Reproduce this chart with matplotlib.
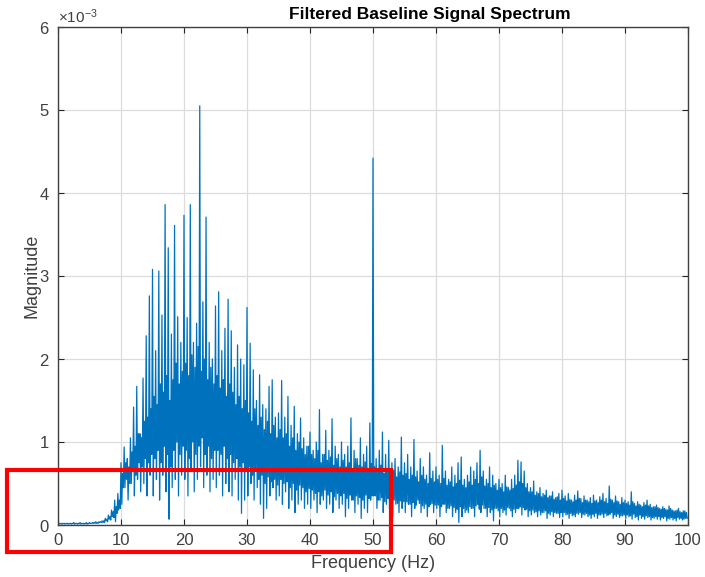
import numpy as np
import matplotlib.pyplot as plt
from matplotlib.patches import Rectangle
from matplotlib.ticker import ScalarFormatter

plt.rcParams['font.family'] = ['Liberation Sans', 'DejaVu Sans']
plt.rcParams['mathtext.fontset'] = 'custom'
plt.rcParams['mathtext.rm'] = 'Liberation Sans'

# spectrum magnitude (x1e-3) per 0.5 Hz bin starting at 0 Hz
# each bin holds four samples: peak, trough, upper band, lower band
peaks = [
    0.02, 0.02, 0.02, 0.02, 0.02, 0.03, 0.02, 0.03, 0.02, 0.03,   # 0-5 Hz
    0.03, 0.03, 0.04, 0.04, 0.05, 0.08, 0.12, 0.18, 0.30, 0.38,   # 5-10
    0.75, 0.94, 0.80, 1.05, 1.42, 1.67, 1.10, 1.77, 2.28, 2.76,   # 10-15
    3.08, 2.10, 3.06, 2.53, 3.86, 3.34, 2.30, 3.61, 2.51, 2.20,   # 15-20
    3.73, 2.50, 3.86, 2.20, 2.43, 5.05, 2.69, 3.71, 2.20, 2.00,   # 20-25
    2.64, 2.81, 2.10, 2.37, 2.72, 2.34, 1.90, 2.17, 2.00, 1.93,   # 25-30
    2.62, 2.19, 1.87, 1.50, 1.81, 1.45, 1.40, 1.67, 1.75, 1.30,   # 30-35
    1.35, 1.74, 1.30, 1.55, 1.20, 1.43, 1.10, 1.29, 1.05, 0.95,   # 35-40
    1.12, 0.90, 1.00, 1.39, 0.85, 1.14, 0.90, 1.28, 0.95, 0.85,   # 40-45
    1.00, 0.85, 0.95, 1.29, 0.90, 0.80, 1.05, 0.85, 0.95, 1.23,   # 45-50
    4.42, 0.80, 0.90, 1.12, 0.85, 1.02, 0.75, 0.80, 0.70, 1.06,   # 50-55
    0.75, 0.85, 0.70, 1.03, 0.65, 0.80, 0.70, 0.60, 0.87, 0.65,   # 55-60
    0.70, 0.60, 0.96, 0.65, 0.55, 0.70, 0.60, 0.75, 0.82, 0.55,   # 60-65
    0.60, 0.70, 0.65, 0.75, 0.90, 0.65, 0.55, 0.70, 0.60, 0.50,   # 65-70
    0.55, 0.50, 0.60, 0.45, 0.55, 0.60, 0.78, 0.76, 0.65, 0.50,   # 70-75
    0.45, 0.53, 0.40, 0.45, 0.38, 0.42, 0.35, 0.40, 0.33, 0.38,   # 75-80
    0.42, 0.35, 0.38, 0.30, 0.36, 0.41, 0.32, 0.35, 0.30, 0.33,   # 80-85
    0.36, 0.30, 0.34, 0.38, 0.32, 0.47, 0.30, 0.35, 0.28, 0.33,   # 85-90
    0.30, 0.28, 0.40, 0.26, 0.28, 0.24, 0.27, 0.30, 0.25, 0.22,   # 90-95
    0.24, 0.20, 0.22, 0.19, 0.23, 0.18, 0.17, 0.20, 0.15, 0.17,   # 95-100
]

troughs = [
    0.01, 0.01, 0.01, 0.01, 0.01, 0.01, 0.01, 0.01, 0.01, 0.01,
    0.02, 0.02, 0.02, 0.03, 0.03, 0.05, 0.07, 0.10, 0.04, 0.18,
    0.25, 0.45, 0.30, 0.50, 0.35, 0.55, 0.40, 0.50, 0.35, 0.60,
    0.35, 0.55, 0.30, 0.60, 0.40, 0.07, 0.45, 0.55, 0.35, 0.60,
    0.55, 0.35, 0.65, 0.40, 0.55, 0.70, 0.45, 0.60, 0.40, 0.55,
    0.45, 0.60, 0.35, 0.50, 0.40, 0.35, 0.55, 0.30, 0.14, 0.30,
    0.35, 0.50, 0.30, 0.45, 0.25, 0.08, 0.20, 0.35, 0.45, 0.30,
    0.35, 0.25, 0.40, 0.20, 0.30, 0.15, 0.25, 0.30, 0.20, 0.25,
    0.20, 0.30, 0.15, 0.25, 0.30, 0.20, 0.25, 0.15, 0.30, 0.20,
    0.25, 0.10, 0.20, 0.30, 0.15, 0.25, 0.08, 0.20, 0.15, 0.30,
    0.35, 0.20, 0.30, 0.15, 0.25, 0.20, 0.10, 0.25, 0.15, 0.20,
    0.15, 0.25, 0.10, 0.20, 0.30, 0.15, 0.20, 0.10, 0.25, 0.15,
    0.20, 0.10, 0.25, 0.15, 0.20, 0.10, 0.15, 0.03, 0.10, 0.15,
    0.15, 0.20, 0.10, 0.25, 0.15, 0.20, 0.10, 0.15, 0.05, 0.20,
    0.10, 0.15, 0.12, 0.20, 0.10, 0.15, 0.20, 0.12, 0.18, 0.10,
    0.12, 0.15, 0.10, 0.12, 0.15, 0.08, 0.12, 0.10, 0.14, 0.09,
    0.10, 0.12, 0.08, 0.11, 0.10, 0.13, 0.09, 0.12, 0.10, 0.08,
    0.10, 0.08, 0.12, 0.09, 0.11, 0.13, 0.08, 0.10, 0.09, 0.11,
    0.08, 0.10, 0.07, 0.09, 0.06, 0.08, 0.07, 0.09, 0.06, 0.08,
    0.07, 0.06, 0.08, 0.05, 0.07, 0.06, 0.05, 0.07, 0.06, 0.08,
]

band_hi = [
    0.02, 0.02, 0.02, 0.02, 0.02, 0.02, 0.02, 0.02, 0.02, 0.02,
    0.02, 0.03, 0.03, 0.04, 0.05, 0.07, 0.10, 0.16, 0.22, 0.30,
    0.62, 0.75, 0.70, 0.88, 0.95, 1.10, 1.05, 1.25, 1.30, 1.40,
    1.55, 1.45, 1.70, 1.60, 1.80, 1.50, 1.75, 1.95, 1.70, 1.85,
    1.95, 1.80, 2.05, 1.90, 2.15, 1.85, 2.00, 1.75, 1.90, 1.70,
    1.80, 1.65, 1.75, 1.55, 1.70, 1.60, 1.45, 1.55, 1.40, 1.50,
    1.35, 1.25, 1.40, 1.20, 1.30, 1.15, 1.25, 1.10, 1.20, 1.05,
    1.15, 1.05, 1.10, 0.95, 1.05, 0.90, 1.00, 0.92, 0.85, 0.95,
    0.85, 0.80, 0.90, 0.75, 0.85, 0.78, 0.82, 0.72, 0.80, 0.70,
    0.78, 0.70, 0.75, 0.68, 0.80, 0.72, 0.70, 0.76, 0.68, 0.74,
    0.70, 0.65, 0.72, 0.62, 0.68, 0.60, 0.66, 0.58, 0.64, 0.60,
    0.62, 0.55, 0.60, 0.58, 0.52, 0.60, 0.55, 0.50, 0.56, 0.52,
    0.55, 0.50, 0.56, 0.48, 0.52, 0.46, 0.50, 0.54, 0.48, 0.45,
    0.52, 0.48, 0.55, 0.50, 0.58, 0.47, 0.50, 0.45, 0.48, 0.42,
    0.45, 0.40, 0.46, 0.42, 0.44, 0.48, 0.52, 0.50, 0.45, 0.40,
    0.40, 0.36, 0.38, 0.34, 0.36, 0.33, 0.35, 0.31, 0.34, 0.30,
    0.32, 0.29, 0.31, 0.28, 0.30, 0.32, 0.27, 0.30, 0.28, 0.26,
    0.29, 0.27, 0.30, 0.28, 0.26, 0.31, 0.27, 0.29, 0.25, 0.27,
    0.26, 0.24, 0.28, 0.23, 0.25, 0.22, 0.24, 0.23, 0.21, 0.22,
    0.21, 0.19, 0.20, 0.18, 0.20, 0.17, 0.18, 0.16, 0.17, 0.15,
]

band_lo = [
    0.015, 0.015, 0.015, 0.015, 0.015, 0.015, 0.015, 0.015, 0.015, 0.015,
    0.02, 0.02, 0.02, 0.03, 0.03, 0.04, 0.06, 0.09, 0.14, 0.20,
    0.45, 0.55, 0.50, 0.65, 0.60, 0.75, 0.70, 0.80, 0.75, 0.85,
    0.80, 0.90, 0.75, 0.95, 0.85, 0.70, 0.90, 1.00, 0.85, 0.95,
    0.90, 0.80, 1.00, 0.85, 0.95, 1.05, 0.85, 0.95, 0.80, 0.90,
    0.90, 0.85, 0.95, 0.80, 0.85, 0.75, 0.80, 0.70, 0.75, 0.65,
    0.70, 0.60, 0.65, 0.55, 0.60, 0.50, 0.58, 0.52, 0.55, 0.48,
    0.55, 0.50, 0.52, 0.45, 0.50, 0.42, 0.48, 0.45, 0.40, 0.44,
    0.42, 0.38, 0.40, 0.35, 0.42, 0.36, 0.40, 0.34, 0.38, 0.35,
    0.38, 0.32, 0.36, 0.30, 0.35, 0.33, 0.30, 0.36, 0.32, 0.35,
    0.35, 0.30, 0.33, 0.28, 0.32, 0.27, 0.30, 0.26, 0.29, 0.28,
    0.28, 0.25, 0.27, 0.24, 0.26, 0.23, 0.25, 0.22, 0.26, 0.24,
    0.24, 0.22, 0.25, 0.20, 0.23, 0.21, 0.19, 0.22, 0.20, 0.18,
    0.22, 0.20, 0.23, 0.19, 0.24, 0.20, 0.21, 0.18, 0.20, 0.17,
    0.20, 0.18, 0.21, 0.17, 0.19, 0.20, 0.22, 0.21, 0.19, 0.17,
    0.18, 0.16, 0.17, 0.15, 0.17, 0.14, 0.16, 0.15, 0.14, 0.15,
    0.15, 0.13, 0.14, 0.12, 0.14, 0.15, 0.13, 0.14, 0.12, 0.13,
    0.14, 0.12, 0.13, 0.14, 0.12, 0.15, 0.12, 0.13, 0.11, 0.12,
    0.12, 0.11, 0.13, 0.10, 0.12, 0.10, 0.11, 0.10, 0.09, 0.10,
    0.10, 0.09, 0.10, 0.08, 0.09, 0.08, 0.09, 0.08, 0.07, 0.08,
]

df = 0.5
n = len(peaks)
f_bin = np.arange(n) * df

# interleave the four samples of each bin along frequency
freq = np.column_stack([f_bin, f_bin + df / 4, f_bin + df / 2, f_bin + 3 * df / 4]).ravel()
mag = np.column_stack([peaks, troughs, band_hi, band_lo]).ravel() * 1e-3

fig = plt.figure(figsize=(7.05, 5.77), dpi=100)
ax = fig.add_axes([58 / 705, 52 / 577, 630 / 705, 498 / 577])

ax.plot(freq, mag, color='#0072BD', linewidth=0.9)

ax.set_xlim(0, 100)
ax.set_ylim(0, 6e-3)
ax.set_xticks(np.arange(0, 101, 10))
ax.set_yticks(np.arange(0, 6.1e-3, 1e-3))

fmt = ScalarFormatter(useMathText=True)
fmt.set_powerlimits((-3, -3))
ax.yaxis.set_major_formatter(fmt)
ax.yaxis.get_offset_text().set_fontsize(11)
ax.yaxis.get_offset_text().set_color('#404040')

ax.grid(True, color='#dcdcdc', linewidth=0.9)
ax.set_axisbelow(True)
ax.tick_params(direction='in', top=True, right=True, length=4,
               labelsize=12, colors='#262626', labelcolor='#404040', pad=6)
for s in ax.spines.values():
    s.set_color('#404040')
    s.set_linewidth(1.0)

ax.set_xlabel('Frequency (Hz)', fontsize=13, color='#404040', labelpad=5)
ax.set_ylabel('Magnitude', fontsize=13, color='#404040', labelpad=-1)
fig.text(430 / 705, 1 - 14 / 577, 'Filtered Baseline Signal Spectrum',
         ha='center', va='center', fontsize=12.5, fontweight='bold', color='black')

# highlight box around the low-frequency band
fig.patches.append(Rectangle((7.3 / 705, 1 - 551.7 / 577), 383.7 / 705, 82.2 / 577,
                             transform=fig.transFigure, fill=False,
                             edgecolor='#ff0000', linewidth=3.0, zorder=10))

fig.savefig('out.png', dpi=100)
